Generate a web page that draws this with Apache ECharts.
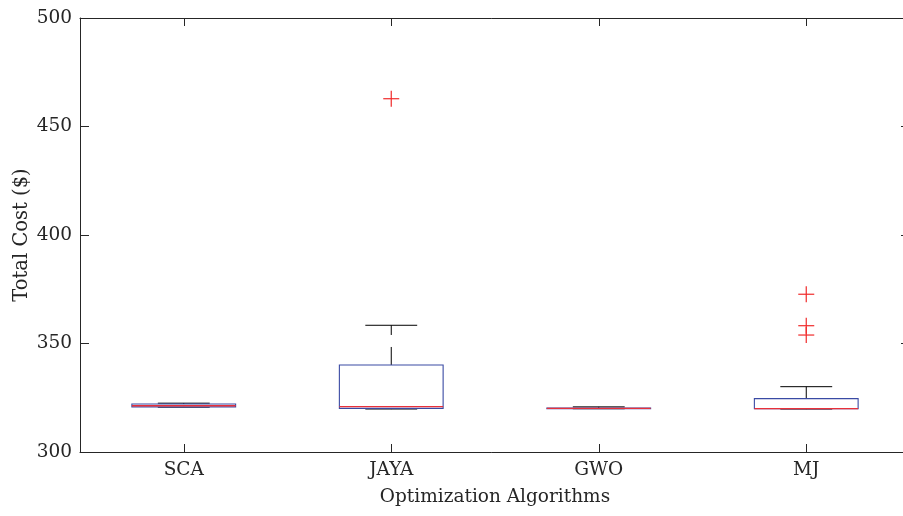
<!DOCTYPE html>
<html>
<head>
<meta charset="utf-8">
<script src="https://cdn.jsdelivr.net/npm/echarts@6/dist/echarts.min.js"></script>
<style>html,body{margin:0;padding:0;background:#fff}#c{width:903px;height:516px}</style>
</head>
<body>
<div id="c"></div>
<script>
var categories = ['SCA', 'JAYA', 'GWO', 'MJ'];
var whiskerLow = [320.5, 319.7, 319.9, 319.7];
var q1 = [320.8, 320.1, 320.0, 320.0];
var median = [321.3, 320.9, 320.1, 320.0];
var q3 = [322.1, 340.1, 320.3, 324.6];
var whiskerHigh = [322.5, 358.4, 320.8, 330.1];
var outliers = [[1, 462.8], [3, 372.7], [3, 358.2], [3, 353.9]];
var yTicks = {min: 300, max: 500, interval: 50};

var font = 'DejaVu Serif';
var boxData = categories.map(function (c, i) {
  return [i, whiskerLow[i], q1[i], median[i], q3[i], whiskerHigh[i]];
});

var chart = echarts.init(document.getElementById('c'), null, {renderer: 'canvas'});
var axisLine = {show: true, lineStyle: {color: '#262626', width: 1}};
chart.setOption({
  animation: false,
  backgroundColor: '#fff',
  grid: {left: 80, right: -7, top: 18, bottom: 64, containLabel: false, outerBoundsMode: 'none'},
  xAxis: [{
    type: 'category', data: categories, position: 'bottom',
    boundaryGap: true,
    axisLine: axisLine,
    axisTick: {show: true, inside: true, alignWithLabel: true, length: 8, lineStyle: {color: '#262626'}},
    axisLabel: {fontFamily: font, fontSize: 18.5, color: '#262626', margin: 9},
    name: 'Optimization Algorithms', nameLocation: 'middle', nameGap: 36,
    nameTextStyle: {fontFamily: font, fontSize: 18.5, color: '#262626'},
    splitLine: {show: false}
  }, {
    type: 'category', data: categories, position: 'top',
    boundaryGap: true,
    axisLine: axisLine,
    axisTick: {show: true, inside: true, alignWithLabel: true, length: 8, lineStyle: {color: '#262626'}},
    axisLabel: {show: false},
    splitLine: {show: false}
  }],
  yAxis: [{
    type: 'value', position: 'left', min: yTicks.min, max: yTicks.max, interval: yTicks.interval,
    axisLine: axisLine,
    axisTick: {show: true, inside: true, length: 9, lineStyle: {color: '#262626'}},
    axisLabel: {fontFamily: font, fontSize: 18.5, color: '#262626', margin: 8},
    name: 'Total Cost ($)', nameLocation: 'middle', nameGap: 48, nameRotate: 90,
    nameMoveOverlap: false,
    nameTextStyle: {fontFamily: font, fontSize: 19.5, color: '#262626'},
    splitLine: {show: false}
  }, {
    type: 'value', position: 'right', min: yTicks.min, max: yTicks.max, interval: yTicks.interval,
    axisLine: axisLine,
    axisTick: {show: true, inside: true, length: 9, lineStyle: {color: '#262626'}},
    axisLabel: {show: false},
    splitLine: {show: false}
  }],
  series: [{
    type: 'custom',
    xAxisIndex: 0, yAxisIndex: 0,
    data: boxData,
    renderItem: function (params, api) {
      var x = api.value(0);
      var band = api.size([1, 0])[0];
      var bw = band * 0.5, cw = band * 0.25;
      var pLow = api.coord([x, api.value(1)]);
      var pQ1 = api.coord([x, api.value(2)]);
      var pMed = api.coord([x, api.value(3)]);
      var pQ3 = api.coord([x, api.value(4)]);
      var pHigh = api.coord([x, api.value(5)]);
      var cx = pQ1[0];
      var dash = {stroke: '#000', lineWidth: 1, lineDash: [18, 12]};
      return {
        type: 'group',
        children: [
          {type: 'line', shape: {x1: cx, y1: pQ3[1], x2: cx, y2: pHigh[1]}, style: dash},
          {type: 'line', shape: {x1: cx, y1: pQ1[1], x2: cx, y2: pLow[1]}, style: dash},
          {type: 'line', shape: {x1: cx - cw / 2, y1: pHigh[1], x2: cx + cw / 2, y2: pHigh[1]}, style: {stroke: '#000', lineWidth: 1}},
          {type: 'line', shape: {x1: cx - cw / 2, y1: pLow[1], x2: cx + cw / 2, y2: pLow[1]}, style: {stroke: '#555', lineWidth: 1}},
          {type: 'rect', shape: {x: cx - bw / 2, y: pQ3[1], width: bw, height: pQ1[1] - pQ3[1]}, style: {fill: 'none', stroke: '#3a4aa4', lineWidth: 1.1}},
          {type: 'line', shape: {x1: cx - bw / 2, y1: pMed[1], x2: cx + bw / 2, y2: pMed[1]}, style: {stroke: '#e8303a', lineWidth: 1.4}}
        ]
      };
    }
  }, {
    type: 'custom',
    xAxisIndex: 0, yAxisIndex: 0,
    data: outliers,
    renderItem: function (params, api) {
      var p = api.coord([api.value(0), api.value(1)]);
      var h = 8;
      var st = {stroke: '#f02a2a', lineWidth: 1.2};
      return {
        type: 'group',
        children: [
          {type: 'line', shape: {x1: p[0] - h, y1: p[1], x2: p[0] + h, y2: p[1]}, style: st},
          {type: 'line', shape: {x1: p[0], y1: p[1] - h, x2: p[0], y2: p[1] + h}, style: st}
        ]
      };
    }
  }]
});
</script>
</body>
</html>
